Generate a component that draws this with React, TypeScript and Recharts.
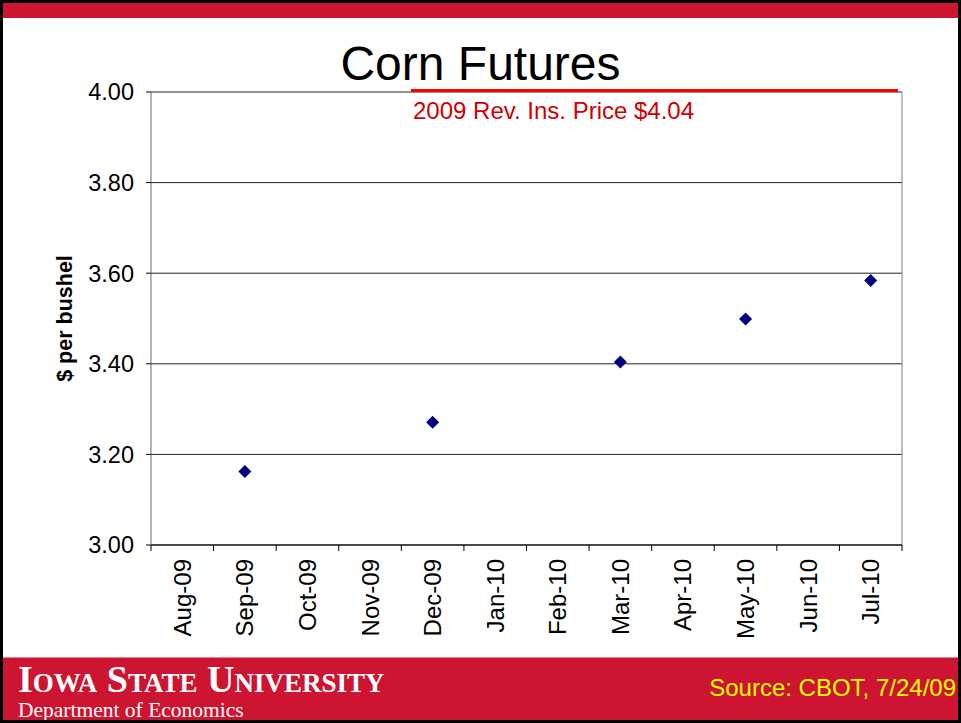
import { LineChart, Line, XAxis, YAxis, CartesianGrid, ReferenceLine, Label } from 'recharts';

const months = ['Aug-09', 'Sep-09', 'Oct-09', 'Nov-09', 'Dec-09', 'Jan-10', 'Feb-10', 'Mar-10', 'Apr-10', 'May-10', 'Jun-10', 'Jul-10'];
const prices: (number | null)[] = [null, 3.162, null, null, 3.271, null, null, 3.404, null, 3.499, null, 3.584];
const yTicks = [3.0, 3.2, 3.4, 3.6, 3.8, 4.0];

// half steps: whole numbers get a tick mark, the halves get the month label
const xTicks = Array.from({ length: months.length * 2 + 1 }, (_, i) => i / 2);

const data = months.map((month, i) => ({ pos: i + 0.5, month, price: prices[i] }));

const SANS = '"Liberation Sans", Arial, sans-serif';
const SERIF = '"Liberation Serif", "Times New Roman", serif';
const RED = '#cd1431';

function Diamond(props: any) {
  const { cx, cy, value } = props;
  if (value == null || cx == null || cy == null) return <g />;
  const r = 6.5;
  return <path d={`M${cx},${cy - r}L${cx + r},${cy}L${cx},${cy + r}L${cx - r},${cy}Z`} fill="#000080" />;
}

function MonthTick(props: any) {
  const { x, y, payload } = props;
  const v = payload.value as number;
  if (Number.isInteger(v)) {
    return <line x1={x} y1={y} x2={x} y2={y + 6} stroke="#000" />;
  }
  const label = months[Math.floor(v)];
  const ty = y + 14;
  return (
    <text
      x={x}
      y={ty}
      transform={`rotate(-90, ${x}, ${ty})`}
      textAnchor="end"
      dominantBaseline="central"
      fontSize={24}
      fontFamily={SANS}
      fill="#000"
    >
      {label}
    </text>
  );
}

export default function App() {
  return (
    <div
      style={{
        position: 'absolute',
        left: 0,
        top: 0,
        width: 961,
        height: 723,
        boxSizing: 'border-box',
        border: '3px solid #000',
        background: '#fff',
        overflow: 'hidden',
      }}
    >
      <div style={{ position: 'absolute', left: 0, top: 0, right: 0, height: 15, background: RED }} />
      <div
        style={{
          position: 'absolute',
          left: 0,
          right: 0,
          top: 654,
          bottom: 0,
          background: RED,
          borderTop: '1px solid #e88a98',
        }}
      />

      <div style={{ position: 'absolute', left: 0, top: 0 }}>
        <LineChart width={955} height={652} data={data} margin={{ top: 89, right: 56, left: 48, bottom: 10 }}>
          <CartesianGrid vertical={false} stroke="#222" />
          <XAxis
            dataKey="pos"
            type="number"
            domain={[0, 12]}
            ticks={xTicks}
            interval={0}
            tick={<MonthTick />}
            tickLine={false}
            tickSize={0}
            tickMargin={0}
            axisLine={{ stroke: '#000' }}
            height={100}
          />
          <YAxis
            domain={[3, 4]}
            ticks={yTicks}
            tickFormatter={(v: number) => v.toFixed(2)}
            tick={{ fontSize: 23.5, fontFamily: SANS, fill: '#000' }}
            tickSize={5}
            tickMargin={12}
            tickLine={{ stroke: '#000' }}
            axisLine={{ stroke: '#666' }}
            width={100}
          >
            <Label
              content={({ viewBox }: any) => {
                const cx = viewBox.x + 14;
                const cy = viewBox.y + viewBox.height / 2;
                return (
                  <text
                    x={cx}
                    y={cy}
                    transform={`rotate(-90, ${cx}, ${cy})`}
                    textAnchor="middle"
                    dominantBaseline="central"
                    fontSize={21.5}
                    fontWeight="bold"
                    fontFamily={SANS}
                    fill="#000"
                  >
                    $ per bushel
                  </text>
                );
              }}
            />
          </YAxis>
          <ReferenceLine x={12} stroke="#808080" />
          <Line
            dataKey="price"
            stroke="none"
            dot={<Diamond />}
            activeDot={false}
            isAnimationActive={false}
          />
        </LineChart>
      </div>

      <div
        style={{
          position: 'absolute',
          left: 0,
          top: 33,
          width: 955,
          textAlign: 'center',
          fontFamily: SANS,
          fontSize: 48,
          lineHeight: '56px',
          color: '#000',
        }}
      >
        Corn Futures
      </div>
      <div style={{ position: 'absolute', left: 408, top: 86, width: 487, height: 3, background: '#ff0000' }} />
      <div
        style={{
          position: 'absolute',
          left: 410,
          top: 94,
          fontFamily: SANS,
          fontSize: 24,
          lineHeight: '28px',
          color: '#d00000',
          whiteSpace: 'nowrap',
        }}
      >
        2009 Rev. Ins. Price $4.04
      </div>

      <div
        style={{
          position: 'absolute',
          left: 15,
          top: 657,
          fontFamily: SERIF,
          fontSize: 38,
          fontWeight: 'bold',
          lineHeight: '38px',
          fontVariant: 'small-caps',
          color: '#fff',
          whiteSpace: 'nowrap',
          letterSpacing: 0,
        }}
      >
        Iowa State University
      </div>
      <div
        style={{
          position: 'absolute',
          left: 15,
          top: 696,
          fontFamily: SERIF,
          fontSize: 21.5,
          lineHeight: '22px',
          color: '#fff',
          whiteSpace: 'nowrap',
        }}
      >
        Department of Economics
      </div>
      <div
        style={{
          position: 'absolute',
          right: 2,
          top: 671,
          fontFamily: SANS,
          fontSize: 24,
          lineHeight: '28px',
          color: '#ffff00',
          whiteSpace: 'nowrap',
        }}
      >
        Source: CBOT, 7/24/09
      </div>
    </div>
  );
}
